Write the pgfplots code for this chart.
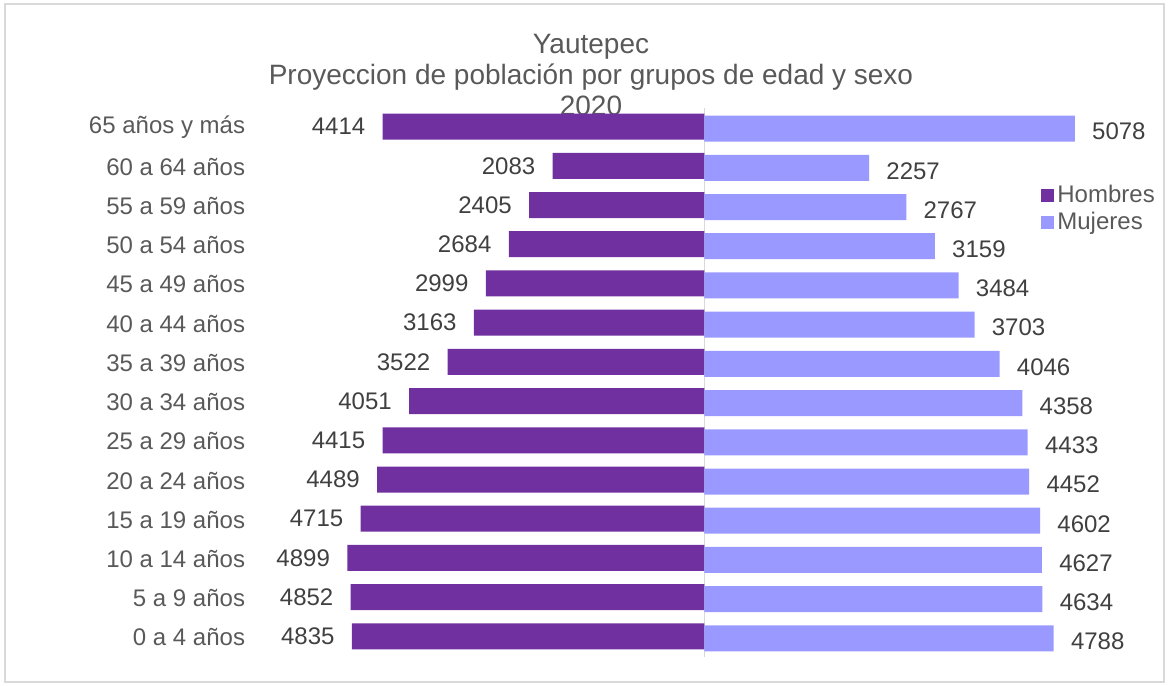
\documentclass[border=0pt]{standalone}
\usepackage{fontspec}
\setmainfont{Liberation Sans}
\usepackage{pgfplots}
\usepackage{pgfplotstable}
\pgfplotsset{compat=1.18}

\definecolor{hombres}{HTML}{7030A0}
\definecolor{mujeres}{HTML}{9999FF}
\definecolor{txtgray}{HTML}{595959}
\definecolor{lblgray}{HTML}{404040}
\definecolor{linegray}{HTML}{D9D9D9}

% y: 0 = "0 a 4 años" ... 13 = "65 años y más"
\pgfplotstableread{
y  h     m
0  4835  4788
1  4852  4634
2  4899  4627
3  4715  4602
4  4489  4452
5  4415  4433
6  4051  4358
7  3522  4046
8  3163  3703
9  2999  3484
10 2684  3159
11 2405  2767
12 2083  2257
13 4414  5078
}\datos

\begin{document}
\begin{tikzpicture}
% page size and outer frame (0.5pt per pixel, origin at the plot box corner)
\path (-133.5pt,-14.5pt) rectangle (451pt,328.5pt);
\draw[linegray, line width=0.75pt] (-131pt,-12.5pt) rectangle (448.5pt,326.5pt);

\node[align=center, font=\fontsize{14}{15.5}\selectfont, text=txtgray]
  at (162pt,291pt) {Yautepec\\Proyeccion de población por grupos de edad y sexo\\2020};

\begin{axis}[
  at={(0pt,0pt)}, anchor=south west,
  scale only axis,
  width=437.5pt, height=274.5pt,
  xbar, bar width=13pt,
  xmin=-6000, xmax=6000,
  ymin=-0.5, ymax=13.5,
  axis line style={draw=none},
  xtick=\empty,
  extra x ticks={0}, extra x tick labels={},
  extra x tick style={grid=major, major grid style={draw=linegray, line width=0.75pt}},
  ytick={0,...,13},
  yticklabels={0 a 4 años,5 a 9 años,10 a 14 años,15 a 19 años,20 a 24 años,
    25 a 29 años,30 a 34 años,35 a 39 años,40 a 44 años,45 a 49 años,
    50 a 54 años,55 a 59 años,60 a 64 años,65 años y más},
  yticklabel style={font=\fontsize{12}{14}\selectfont, text=txtgray, inner sep=0pt, xshift=-6.5pt},
  tick style={draw=none},
  /pgf/number format/assume math mode=true,
  /pgf/number format/1000 sep={},
  point meta=explicit,
  nodes near coords,
  nodes near coords style={font=\fontsize{12}{14}\selectfont, text=lblgray, inner sep=0pt},
  clip=false,
  legend style={at={(0.8846,0.862)}, anchor=north west, draw=none, fill=none,
    font=\fontsize{12}{14}\selectfont, text=txtgray, cells={anchor=west},
    inner sep=0pt, row sep=2.5pt, nodes={inner sep=0.5pt},
    /tikz/every odd column/.append style={column sep=1pt}},
  legend image code/.code={\fill[#1, draw=none] (0pt,-3.25pt) rectangle (6.5pt,3.25pt);},
]
\addplot+[fill=hombres, draw=none, bar shift=0.5pt,
  every node near coord/.append style={anchor=east, xshift=-8.5pt}]
  table[x expr=-\thisrow{h}, y=y, meta=h] {\datos};
\addlegendentry{Hombres}

\addplot+[fill=mujeres, draw=none, bar shift=-0.5pt,
  every node near coord/.append style={anchor=west, xshift=8.5pt, yshift=-1.5pt}]
  table[x=m, y=y, meta=m] {\datos};
\addlegendentry{Mujeres}
\end{axis}
\end{tikzpicture}
\end{document}
